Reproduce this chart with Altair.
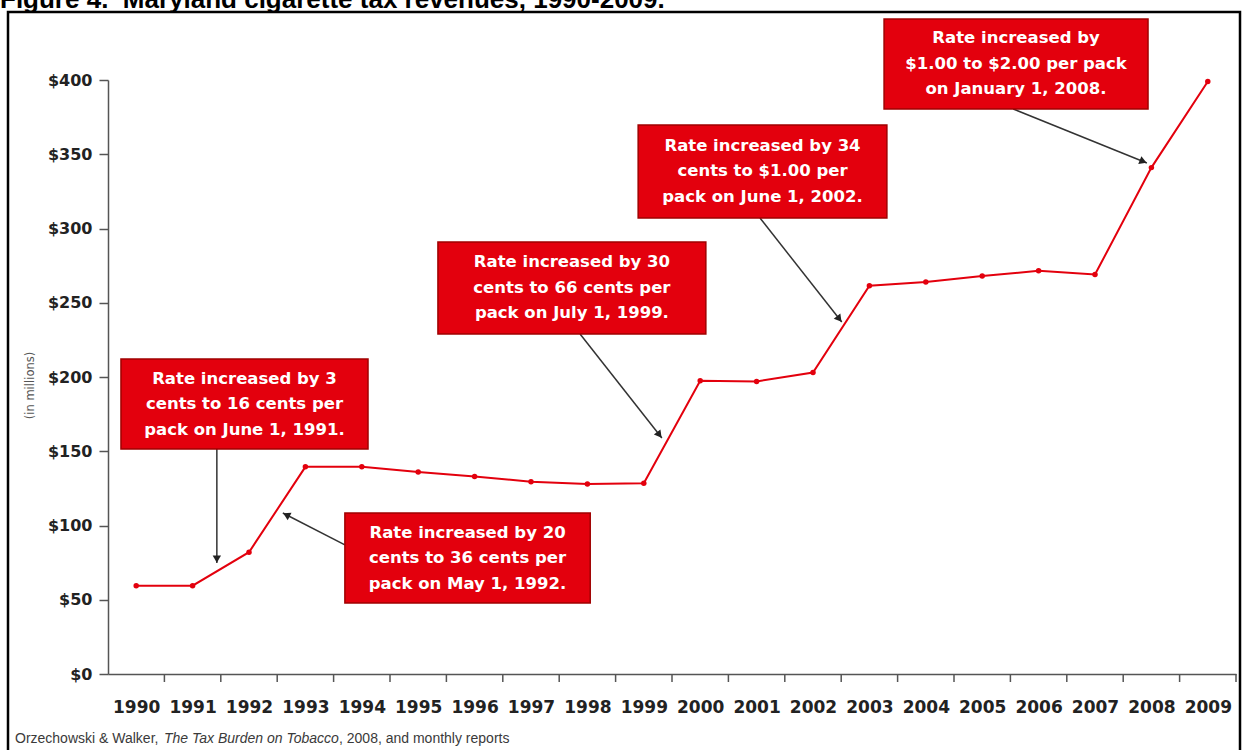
import math
import altair as alt
import pandas as pd

# ---------------- data ----------------
years = list(range(1990, 2010))
revenue = [59.5, 59.5, 82, 139.5, 139.5, 136, 133, 129.5, 128, 128.5,
           197.5, 197, 203, 261.5, 264, 268, 271.5, 269, 341, 399]

y_tick_values = [0, 50, 100, 150, 200, 250, 300, 350, 400]
x_tick_bounds = [1990.5 + i for i in range(20)]

box_text = [
    "Rate increased by 3\ncents to 16 cents per\npack on June 1, 1991.",
    "Rate increased by 20\ncents to 36 cents per\npack on May 1, 1992.",
    "Rate increased by 30\ncents to 66 cents per\npack on July 1, 1999.",
    "Rate increased by 34\ncents to $1.00 per\npack on June 1, 2002.",
    "Rate increased by\n$1.00 to $2.00 per pack\non January 1, 2008.",
]
box_x1 = [1989.73, 1993.70, 1995.35, 1998.90, 2003.26]
box_x2 = [1994.11, 1998.05, 2000.10, 2003.31, 2007.94]
box_y1 = [212.1, 108.4, 290.9, 369.7, 441.1]
box_y2 = [151.5, 47.8, 229.0, 307.1, 380.5]

arrow_x = [1991.43, 1993.70, 1997.87, 2001.06, 2005.55]
arrow_y = [151.5, 86.9, 229.0, 307.1, 380.5]
arrow_tx = [1991.43, 1992.60, 1999.32, 2002.51, 2007.92]
arrow_ty = [74.7, 108.4, 158.9, 237.0, 344.1]

title_text = "Figure 4. \u00a0Maryland cigarette tax revenues, 1990-2009."
source_parts = ["Orzechowski & Walker, ", "The Tax Burden on Tobacco", ", 2008, and monthly reports"]

# ---------------- layout ----------------
W, H = 1128, 594
PAD_L, PAD_T = 108, 80
X_DOM = [1989.5, 2009.5]
Y_DOM = [0, 400]
px_x = W / (X_DOM[1] - X_DOM[0])
px_y = H / (Y_DOM[1] - Y_DOM[0])
LINE_H = 25.5

xs = alt.Scale(domain=X_DOM, nice=False, zero=False)
ys = alt.Scale(domain=Y_DOM, nice=False, zero=False)

RED = "#e3000d"
AX = "#555555"

x_axis = alt.Axis(values=years, format="d", ticks=False, grid=False,
                  domainColor=AX, domainWidth=1.5,
                  labelFont="DejaVu Sans", labelFontWeight="bold",
                  labelFontSize=17, labelColor="#222222",
                  labelPadding=25, labelFlush=False, labelOverlap=False,
                  title=None)
y_axis = alt.Axis(values=y_tick_values, labelExpr="'$' + datum.value",
                  grid=False, tickSize=9, tickColor=AX, tickWidth=1.5,
                  domainColor=AX, domainWidth=1.5,
                  labelFont="DejaVu Sans", labelFontWeight="bold",
                  labelFontSize=16, labelColor="#222222", labelPadding=7,
                  title="(in millions)", titleFont="DejaVu Sans",
                  titleFontWeight="normal", titleFontSize=11.5,
                  titleColor="#555555", titleAngle=270,
                  titleAlign="center", titleBaseline="middle",
                  titleX=30 - PAD_L, titleY=385 - PAD_T)


def X(field):
    return alt.X(field, scale=xs, axis=x_axis)


def Y(field):
    return alt.Y(field, scale=ys, axis=y_axis)


line_df = pd.DataFrame({"year": years, "rev": revenue})
boxes = pd.DataFrame({"x1": box_x1, "x2": box_x2, "y1": box_y1, "y2": box_y2, "txt": box_text})
boxes["xc"] = (boxes.x1 + boxes.x2) / 2
boxes["yc"] = (boxes.y1 + boxes.y2) / 2

arr = pd.DataFrame({"x": arrow_x, "y": arrow_y, "tx": arrow_tx, "ty": arrow_ty})
angles, hx, hy = [], [], []
for r in arr.itertuples():
    dx = (r.tx - r.x) * px_x
    dy = -(r.ty - r.y) * px_y
    L = math.hypot(dx, dy)
    ux, uy = dx / L, dy / L
    angles.append(math.degrees(math.atan2(dx, -dy)) % 360)
    hx.append(r.tx - 4 * ux / px_x)
    hy.append(r.ty + 4 * uy / px_y)
arr["angle"] = angles
arr["hx"] = hx
arr["hy"] = hy

ticks_df = pd.DataFrame({"t": x_tick_bounds})

# ---------------- layers ----------------
border = alt.Chart(pd.DataFrame({"a": [0]})).mark_rect(
    filled=False, stroke="black", strokeWidth=2.5
).encode(
    x=alt.value(8 - PAD_L), x2=alt.value(1240 - PAD_L),
    y=alt.value(12 - PAD_T), y2=alt.value(770 - PAD_T),
)

title = alt.Chart(pd.DataFrame({"t": [title_text]})).mark_text(
    font="Liberation Sans", fontWeight="bold", fontSize=26, color="black",
    align="left", baseline="alphabetic"
).encode(text="t:N", x=alt.value(0 - PAD_L), y=alt.value(8 - PAD_T))

src_x = [15, 164, 339]
src_style = ["normal", "italic", "normal"]
src_layers = []
for txt, sx, st in zip(source_parts, src_x, src_style):
    src_layers.append(
        alt.Chart(pd.DataFrame({"t": [txt]})).mark_text(
            font="Liberation Sans", fontSize=14, fontStyle=st, color="#3a3a3a",
            align="left", baseline="middle"
        ).encode(text="t:N", x=alt.value(sx - PAD_L), y=alt.value(739 - PAD_T))
    )

x_ticks = alt.Chart(ticks_df).mark_rule(color=AX, strokeWidth=1.5).encode(
    x=X("t:Q"),
    y=alt.value(H), y2=alt.value(H + 8),
)

line = alt.Chart(line_df).mark_line(color=RED, strokeWidth=2).encode(
    x=X("year:Q"), y=Y("rev:Q"),
)

pts = alt.Chart(line_df).mark_circle(color=RED, size=30, opacity=1).encode(
    x=X("year:Q"), y=Y("rev:Q"),
)

rects = alt.Chart(boxes).mark_rect(fill=RED, stroke="#a00000", strokeWidth=1.5).encode(
    x=X("x1:Q"), x2="x2:Q",
    y=Y("y1:Q"), y2="y2:Q",
)

rect_text = alt.Chart(boxes).mark_text(
    font="DejaVu Sans", fontWeight="bold", fontSize=16.5, color="white",
    align="center", baseline="middle", lineBreak="\n", lineHeight=LINE_H,
    dy=-LINE_H
).encode(
    x=X("xc:Q"), y=Y("yc:Q"),
    text="txt:N",
)

arrow_lines = alt.Chart(arr).mark_rule(color="#333333", strokeWidth=1.5).encode(
    x=X("x:Q"), x2="tx:Q",
    y=Y("y:Q"), y2="ty:Q",
)

arrow_heads = alt.Chart(arr).mark_point(
    shape="triangle-up", filled=True, color="#222222", size=70, opacity=1
).encode(
    x=X("hx:Q"), y=Y("hy:Q"),
    angle=alt.Angle("angle:Q", scale=None),
)

chart = alt.layer(
    line, border, title, *src_layers, x_ticks, pts, arrow_lines, arrow_heads, rects, rect_text
).properties(
    width=W, height=H,
    autosize=alt.AutoSizeParams(type="none"),
    padding={"left": PAD_L, "top": PAD_T, "right": 1244 - PAD_L - W, "bottom": 750 - PAD_T - H},
    background="white",
).configure_view(stroke=None)

chart.save("out.html", embed_options={"renderer": "svg", "actions": False})
